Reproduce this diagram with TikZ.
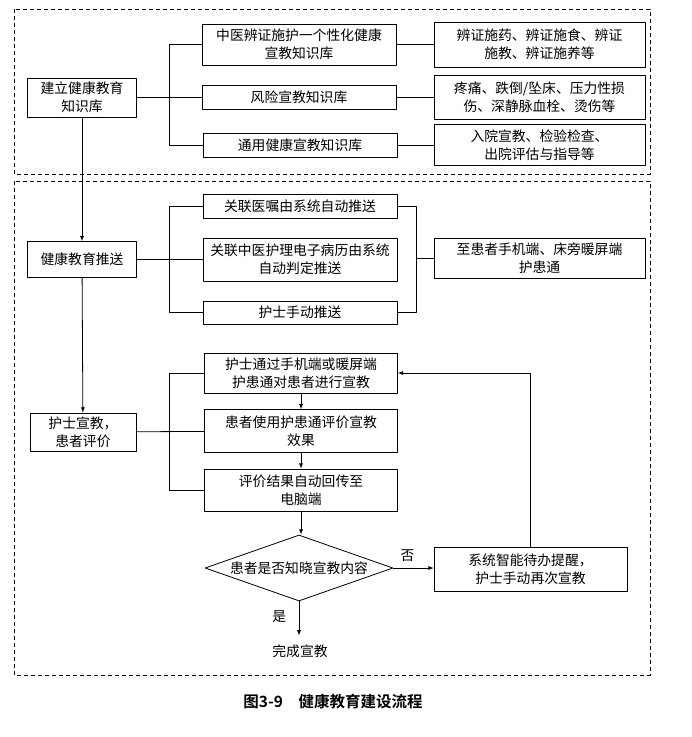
\documentclass[tikz,border=0pt]{standalone}
\usepackage{fontspec}
\setmainfont{Noto Sans CJK SC}
\newfontfamily\capfont[BoldFont={Noto Sans CJK SC Bold}]{Noto Sans CJK SC}
\usetikzlibrary{shapes.geometric}
\tikzset{
  box/.style={draw, line width=0.8pt, align=center, inner sep=1pt},
  link/.style={line width=0.8pt},
  frame/.style={dash pattern=on 4pt off 3pt, line width=0.7pt}
}
\begin{document}
\begin{tikzpicture}[x=1pt, y=-1pt, font=\fontsize{13.8}{18}\selectfont, line join=round, >=latex]
\useasboundingbox (0,0) rectangle (692,737);
\draw[frame] (14,9) rectangle (650,174);
\draw[frame] (14,181) rectangle (650,675);
% knowledge base
\node[box, minimum width=109, minimum height=39] (jl) at (82,97.5) {建立健康教育\\知识库};
\node[box, minimum width=194, minimum height=41] (k1) at (299,44.5) {中医辨证施护一个性化健康\\宣教知识库};
\node[box, minimum width=194, minimum height=24] (k2) at (299,97.5) {风险宣教知识库};
\node[box, minimum width=194, minimum height=24] (k3) at (300,145) {通用健康宣教知识库};
\node[box, minimum width=211, minimum height=45] (r1) at (539.5,44.5) {辨证施药、辨证施食、辨证\\施教、辨证施养等};
\node[box, minimum width=211, minimum height=44] (r2) at (539.5,97.5) {疼痛、跌倒/坠床、压力性损\\伤、深静脉血栓、烫伤等};
\node[box, minimum width=211, minimum height=41] (r3) at (539.5,145) {入院宣教、检验检查、\\出院评估与指导等};
\draw[link] (k1.west) -- ++(-32.5,0) |- (k3.west);
\draw[link] (jl) -- (k2);
\foreach \k in {1,2,3}
  \draw[link] (k\k) -- (r\k);
% push
\node[box, minimum width=109, minimum height=36] (ts) at (82,259.5) {健康教育推送};
\node[box, minimum width=194, minimum height=24] (p1) at (300,206) {关联医嘱由系统自动推送};
\node[box, minimum width=194, minimum height=43] (p2) at (300,259.5) {关联中医护理电子病历由系统\\自动判定推送};
\node[box, minimum width=194, minimum height=23] (p3) at (300,312.5) {护士手动推送};
\node[box, minimum width=211, minimum height=40] (r4) at (539.5,258) {至患者手机端、床旁暖屏端\\护患通};
\coordinate (rb) at (416,258);
\draw[link] (p1.west) -- ++(-33.5,0) |- (p3.west);
\draw[link] (p1.east) -- ++(19,0) |- (p3.east);
\draw[link] (ts) -- (p2);
\draw[link] (rb) -- (r4);
\draw[link,->] (jl) -- (ts);
% education and evaluation
\node[box, minimum width=106, minimum height=38] (xj) at (83,432) {护士宣教，\\患者评价};
\node[box, minimum width=193, minimum height=40] (e1) at (301,373) {护士通过手机端或暖屏端\\护患通对患者进行宣教};
\node[box, minimum width=193, minimum height=43] (e2) at (301,431) {患者使用护患通评价宣教\\效果};
\node[box, minimum width=193, minimum height=42] (e3) at (301,490) {评价结果自动回传至\\电脑端};
\draw[link] (e1.west) -- ++(-35,0) |- (e3.west);
\draw[link] (xj) -- (e2);
\draw[link,->] (ts) -- (xj);
\draw[link,->] (e1) -- (e2);
\draw[link,->] (e2) -- (e3);
\node[draw, line width=0.8pt, shape=diamond, aspect=2.85, inner sep=0pt,
  minimum width=188, minimum height=66] (zx) at (299,568) {患者是否知晓宣教内容};
\node[box, minimum width=193, minimum height=44] (tx) at (530.5,569) {系统智能待办提醒，\\护士手动再次宣教};
\node (wc) at (300,651) {完成宣教};
\draw[link,->] (e3) -- (e3 |- zx.north);
\draw[link,->] (zx.east) -- (zx.east -| tx.west) node[pos=0.35, above=3pt] {否};
\draw[link,->] (tx.north) |- (e1.east);
\draw[link,->] (zx.south) -- ++(0,34) node[pos=0.45, left=9pt] {是};
\node[font=\capfont\bfseries\fontsize{15.5}{18}\selectfont] (cap) at (333,702) {图3-9\quad 健康教育建设流程};
\end{tikzpicture}
\end{document}
